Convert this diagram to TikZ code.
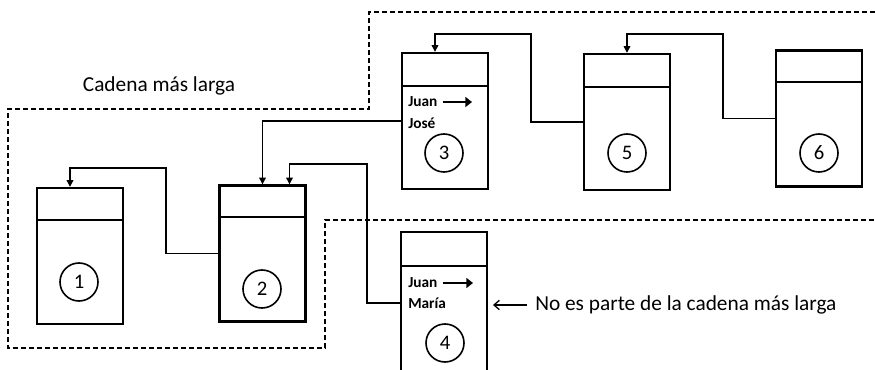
\documentclass[tikz,border=0pt]{standalone}
\usepackage{fontspec}
\setmainfont{Carlito}
\usetikzlibrary{arrows.meta,calc}

\tikzset{
  caja/.style={draw, line width=1.8pt, minimum width=64.5pt, minimum height=102pt, inner sep=0pt},
  num/.style={draw, circle, line width=1.2pt, minimum size=28.5pt, inner sep=0pt, font=\fontsize{15.5}{18}\selectfont},
  enlace/.style={line width=0.9pt, -{Triangle[length=5pt,width=5pt]}},
  dato/.style={anchor=west, inner sep=0pt, font=\fontsize{11.5}{13}\selectfont\bfseries},
  flecha/.style={line width=1.8pt, -{Triangle[length=5pt,width=7.5pt]}},
  titulo/.style={inner sep=0pt, font=\fontsize{16}{19}\selectfont},
}

\begin{document}
\begin{tikzpicture}[x=0.75pt,y=0.75pt,yscale=-1,xscale=1]
\useasboundingbox (0,0) rectangle (875,370);

%Boundary of the longest chain
\draw [line width=1.1pt, dash pattern={on 3.6pt off 2.4pt}] (875,12) -- (369,12) -- (369,109) -- (8,109) -- (8,348) -- (325,348) -- (325,220) -- (875,220);

%Boxes
\node [caja] (b1) at (80,256) {};
\node [caja] (b2) at (262.5,253.5) {};
\node [caja] (b3) at (445,121) {};
\node [caja, minimum height=106.5pt] (b4) at (444,303) {};
\node [caja] (b5) at (627,122) {};
\node [caja] (b6) at (819,118.5) {};
\foreach \b/\h in {b1/33, b2/33, b3/34, b4/35, b5/34, b6/33}
  \draw [line width=1.5pt] ($(\b.north west)+(0,\h)$) -- ($(\b.north east)+(0,\h)$);

%Numbers
\node [num] (c1) at (79,282) {1};
\node [num] (c2) at (262,289) {2};
\node [num] (c3) at (444,153) {3};
\node [num] (c4) at (445,343) {4};
\node [num] (c5) at (627,153) {5};
\node [num] (c6) at (819,153) {6};

%Data in boxes 3 and 4
\node [dato] (j3) at (408,102) {Juan};
\node [dato] (n3) at (408,123) {José};
\node [dato] (j4) at (408,283) {Juan};
\node [dato] (n4) at (408,303) {María};
\coordinate (p3) at (472,102);
\coordinate (p4) at (473,283);
\draw [flecha] ($(j3.east)+(5,0)$) -- (p3);
\draw [flecha] ($(j4.east)+(5,0)$) -- (p4);

%Links
\draw [enlace] (b3.west) -| (b2.north);
\draw [enlace] (b4.west) -| (367,164) -| ($(b2.north)+(27,0)$);
\draw [enlace] (b2.west) -| (166,168) -| ($(b1.north)+(-10,0)$);
\draw [enlace] (b5.west) -| (531,34) -| ($(b3.north)+(-10,0)$);
\draw [enlace] (b6.west) -| (723,34) -| (b5.north);

%Labels
\node [titulo] (t1) at (159,86) {Cadena más larga};
\node [titulo, anchor=west] (t2) at (535,305) {No es parte de la cadena más larga};
\coordinate (q4) at (493,305);
\draw [line width=1pt, -{Straight Barb[length=4pt,width=7pt]}] ($(t2.west)+(-8,0)$) -- (q4);

\end{tikzpicture}
\end{document}
